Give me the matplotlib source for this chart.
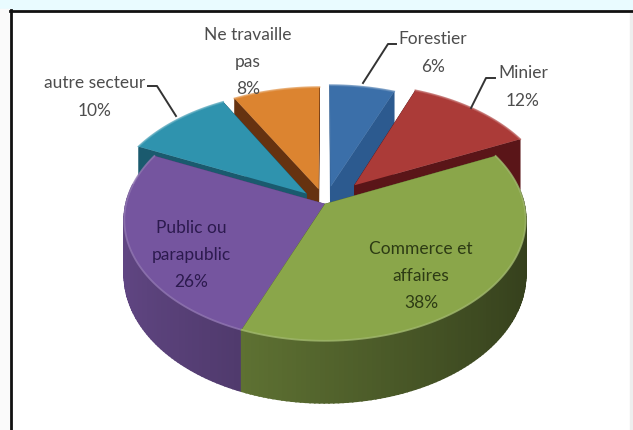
import matplotlib
matplotlib.use("Agg")
import matplotlib.pyplot as plt
from matplotlib.patches import Polygon, Rectangle
import numpy as np

# data
categories = ["Forestier", "Minier", "Commerce et\naffaires", "Public ou\nparapublic", "autre secteur", "Ne travaille\npas"]
percents = [6, 12, 38, 26, 10, 8]

# style per slice
top_colors = ["#3b6fa9", "#ab3b38", "#8aa64a", "#75559f", "#2f93ae", "#dc8430"]
side_colors = ["#2c5a8f", "#5a1518", "#5a6e30", "#55407a", "#1a5a6e", "#663210"]
explode = [0.15, 0.22, 0, 0, 0.13, 0.13]
draw_order = [5, 0, 1, 4, 3, 2]

# pie geometry in pixels
cx, cy = 325, 205
rx, ry = 199, 119
persp = 0.13
depth = 54

plt.rcParams["font.family"] = ["Lato", "DejaVu Sans"]

fig = plt.figure(figsize=(6.33, 4.31), dpi=100)
ax = fig.add_axes([0, 0, 1, 1])
ax.set_xlim(0, 633)
ax.set_ylim(431, 0)
ax.axis("off")

# screen background and frame
ax.add_patch(Rectangle((0, 0), 633, 10, color="#e9fbff", zorder=0))
ax.add_patch(Rectangle((0, 10), 10, 421, color="#fafafa", zorder=0))
ax.add_patch(Rectangle((630, 12), 3, 419, color="#eeeeee", zorder=0))
ax.plot([10, 633], [11.5, 11.5], color="#111111", lw=2, zorder=1)
ax.plot([10.5, 10.5], [11, 431], color="#111111", lw=2, zorder=1)


def project(X, Y, down=0.0):
    s = 1 / (1 + persp * Y)
    return cx + rx * X * s, cy - ry * Y * s + depth * s * down


def shade(color, X):
    rgb = np.array(matplotlib.colors.to_rgb(color))
    return tuple(rgb * (0.82 - 0.22 * (X + 1)))


edges = np.cumsum([0] + percents) * 3.6
for i in draw_order:
    a0, a1 = np.radians(edges[i]), np.radians(edges[i + 1])
    mid = (a0 + a1) / 2
    ox, oy = explode[i] * np.sin(mid), explode[i] * np.cos(mid)
    th = np.linspace(a0, a1, int(percents[i] * 3) + 2)
    X = np.sin(th) + ox
    Y = np.cos(th) + oy

    # walls along the two cut edges
    for k in (0, -1):
        xs = [ox, X[k], X[k], ox]
        ys = [oy, Y[k], Y[k], oy]
        downs = [0, 0, 1, 1]
        pts = [project(a, b, d) for a, b, d in zip(xs, ys, downs)]
        ax.add_patch(Polygon(pts, closed=True, fc=side_colors[i], ec=side_colors[i], lw=0.4, zorder=2))

    # outer wall, only the part facing us, in strips so it can be shaded
    base = np.array(matplotlib.colors.to_rgb(top_colors[i]))
    for j in range(len(th) - 1):
        if np.cos(th[j]) > 0.15 and np.cos(th[j + 1]) > 0.15:
            continue
        pts = [project(X[j], Y[j]), project(X[j + 1], Y[j + 1]),
               project(X[j + 1], Y[j + 1], 1), project(X[j], Y[j], 1)]
        col = shade(top_colors[i], (X[j] + X[j + 1]) / 2)
        ax.add_patch(Polygon(pts, closed=True, fc=col, ec=col, lw=1.2, zorder=2))

    # top face
    rim = [project(a, b) for a, b in zip(X, Y)]
    ax.add_patch(Polygon([project(ox, oy)] + rim, closed=True, fc=top_colors[i], ec="none", zorder=2))
    light = tuple(base + (1 - base) * 0.2)
    ax.plot([p[0] for p in rim], [p[1] for p in rim], color=light, lw=1.3, alpha=0.8, zorder=2)

# labels
gray = "#4d4d4d"
spacing = 1.85
ax.text(433, 53, categories[0] + "\n6%", ha="center", va="center", fontsize=12.5, color=gray, linespacing=spacing, zorder=3)
ax.text(523, 87, categories[1] + "\n12%", ha="center", va="center", fontsize=12.5, color=gray, linespacing=spacing, zorder=3)
ax.text(421, 276, categories[2] + "\n38%", ha="center", va="center", fontsize=12.5, color="#2d3b14", linespacing=spacing, zorder=3)
ax.text(191, 255, categories[3] + "\n26%", ha="center", va="center", fontsize=12.5, color="#2c1a4e", linespacing=spacing, zorder=3)
ax.text(95, 97, categories[4] + "\n10%", ha="center", va="center", fontsize=12.5, color=gray, linespacing=spacing, zorder=3)
ax.text(248, 62, categories[5] + "\n8%", ha="center", va="center", fontsize=12.5, color=gray, linespacing=spacing, zorder=3)

# leader lines
ax.plot([396, 388, 363], [45, 45, 84], color="#333333", lw=1.4, zorder=3)
ax.plot([495, 486, 471], [79, 79, 109], color="#333333", lw=1.4, zorder=3)
ax.plot([148, 157, 176], [87, 87, 117], color="#333333", lw=1.4, zorder=3)

fig.savefig("out.png", dpi=100)
